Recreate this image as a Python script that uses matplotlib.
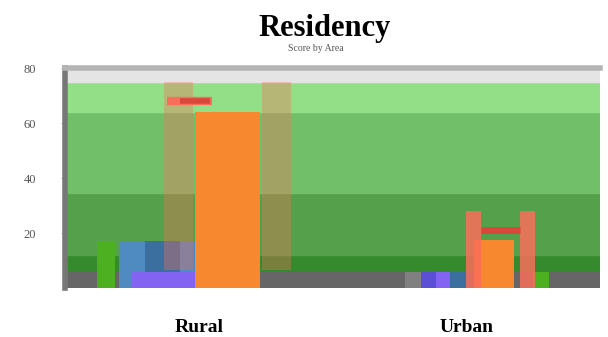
import matplotlib.pyplot as plt
import numpy as np

# Categories
areas = ["Rural", "Urban"]

# Qualitative ranges drawn behind the bars (upper edges)
range_edges = [0, 6.5, 12, 34.5, 64, 75]
range_colors = ["#666666", "#358a2e", "#55a04a", "#72bf6a", "#93df88"]

# Small comparison bars per area
small_series = ["gray", "indigo", "violet", "blue", "green"]
small_colors = ["#808080", "#5b4fd6", "#8263f2", "#3a6fa0", "#4cb020"]
small_rural = [0, 0, 6, 17, 17]
small_urban = [6, 6, 6, 6, 6]

# Main measure, target and upper band
actual = [64, 17.5]
target = [68, 21]
upper = [75, 28]

fig = plt.figure(figsize=(6.08, 3.37), dpi=100)
ax = fig.add_axes([0.107, 0.145, 0.880, 0.653])

x = np.arange(len(areas))

# background ranges
for lo, hi, c in zip(range_edges[:-1], range_edges[1:], range_colors):
    ax.axhspan(lo, hi, color=c, zorder=0)
ax.axhspan(75, 80, color="#e4e4e4", zorder=0)

# small bars around each area (offsets/widths per series)
urban_offsets = [-0.23, -0.17, -0.115, -0.06, 0.25]
urban_widths = [0.06, 0.06, 0.06, 0.07, 0.06]
rural_offsets = [-0.24, -0.22, -0.25, -0.30, -0.38]
rural_widths = [0.06, 0.06, 0.235, 0.285, 0.065]
for i in range(len(small_series)):
    ax.bar(x[0] + rural_offsets[i], small_rural[i], width=rural_widths[i],
           color=small_colors[i], align="edge", zorder=2)
    ax.bar(x[1] + urban_offsets[i], small_urban[i], width=urban_widths[i],
           color=small_colors[i], align="edge", zorder=2)
# lighter rims on the rural blue bar
ax.bar(x[0] - 0.30, small_rural[3], width=0.1, color="#4f8bc0", align="edge", zorder=2)
ax.bar(x[0] - 0.07, small_rural[3], width=0.06, color="#4f8bc0", align="edge", zorder=2)
ax.bar(x[0] - 0.25, small_rural[2], width=0.235, color=small_colors[2], align="edge", zorder=2)

# main bars
main_offsets = [-0.015, 0.03]
main_widths = [0.245, 0.15]
for xi, a, off, w in zip(x, actual, main_offsets, main_widths):
    ax.bar(xi + off, a, width=w, color="#f7882f", align="edge", zorder=3)

# upper band side rails and target marker
rail_left = [-0.13, 0.0]
rail_right = [0.235, 0.2]
rail_alpha = [0.35, 0.85]
rail_base = [6.5, 0]
for xi, u, l, r, al, b in zip(x, upper, rail_left, rail_right, rail_alpha, rail_base):
    ax.bar([xi + l, xi + r], [u - b, u - b], bottom=b,
           width=0.11 if al < 0.5 else 0.055,
           align="edge", color="#f96e5a", alpha=al, zorder=4, linewidth=0)
ax.hlines(target[0], x[0] - 0.12, x[0] + 0.05, color="#f96e5a", linewidth=6, zorder=5)
ax.hlines(target[0], x[0] - 0.07, x[0] + 0.04, color="#d9473b", linewidth=4, zorder=6)
ax.hlines(target[1], x[1] + 0.055, x[1] + 0.2, color="#d9473b", linewidth=5, zorder=5)

ax.set_xlim(-0.5, 1.5)
ax.set_ylim(0, 80)
ax.set_yticks([20, 40, 60, 80])
ax.set_xticks(x)
ax.set_xticklabels(areas, family="Liberation Serif", fontsize=14, fontweight="bold")
for lab in ax.get_yticklabels():
    lab.set_family("Liberation Serif")
    lab.set_fontsize(9)
    lab.set_color("#555555")
ax.tick_params(axis="x", length=0, pad=22)
ax.tick_params(axis="y", length=3, color="#bbbbbb", pad=18)

for side in ["right", "bottom"]:
    ax.spines[side].set_visible(False)
ax.spines["left"].set_color("#777777")
ax.spines["left"].set_linewidth(4)
ax.spines["top"].set_color("#b5b5b5")
ax.spines["top"].set_linewidth(4)

fig.text(0.533, 0.893, "Residency", ha="center", family="Liberation Serif",
         fontsize=22, fontweight="bold")
fig.text(0.52, 0.85, "Score by Area", ha="center", family="Liberation Serif",
         fontsize=7, color="#555555")

fig.savefig("out.png", dpi=100)
